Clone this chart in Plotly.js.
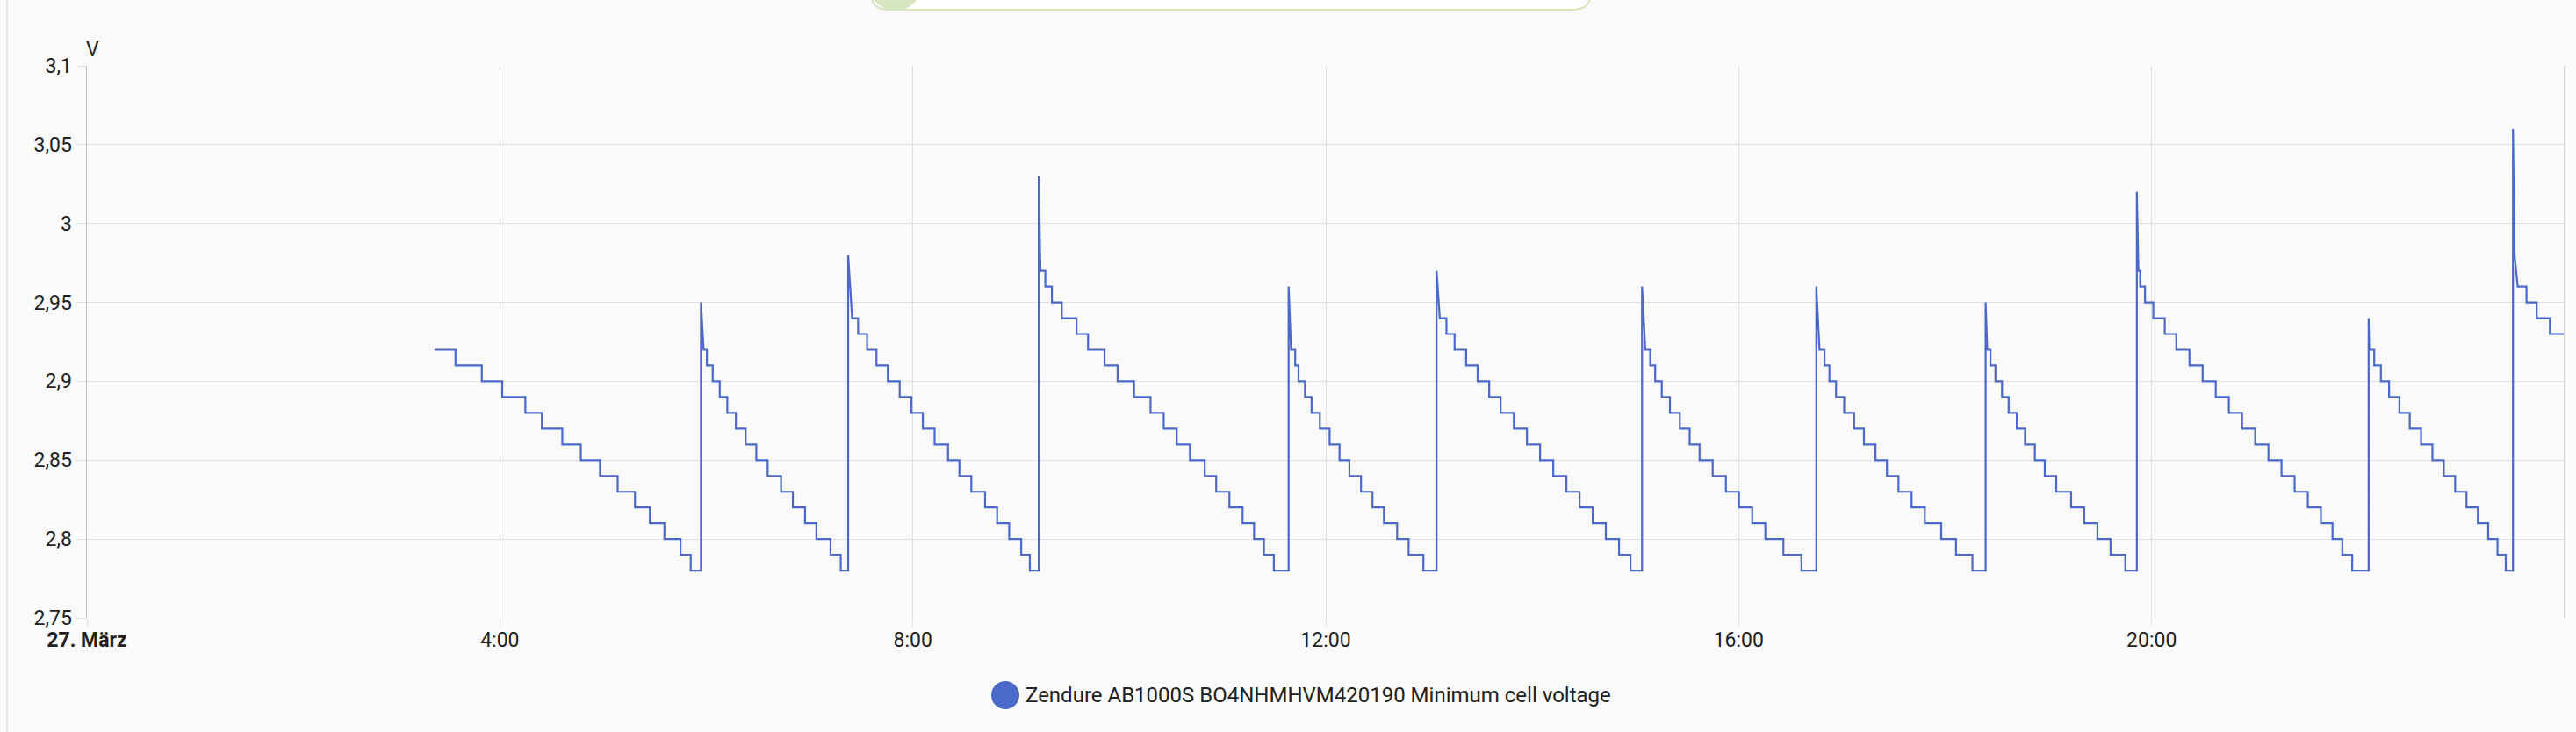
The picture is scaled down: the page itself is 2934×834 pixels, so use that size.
<!DOCTYPE html>
<html>
<head>
<meta charset="utf-8">
<script src="https://cdn.plot.ly/plotly-3.0.1.min.js"></script>
<style>
  html, body { margin: 0; padding: 0; background: #fafafa; }
  #chart { width: 2934px; height: 834px; }
</style>
</head>
<body>
<div id="chart"></div>
<script>
// ---- data ----
const chartDate = '2024-03-27';
const nextDate = '2024-03-28';
const seriesName = 'Zendure AB1000S BO4NHMHVM420190 Minimum cell voltage';
const unitLabel = 'V';

const times = [
  '03:22:05','03:34:12','03:49:30','04:01:23','04:14:49','04:24:25','04:36:18','04:47:02',
  '04:58:12','05:08:28','05:18:32','05:27:11','05:35:38','05:45:00','05:50:56',
  '05:56:53','05:58:25','06:00:18','06:03:43','06:07:48','06:12:11','06:17:10',
  '06:22:52','06:29:02','06:35:38','06:43:26','06:50:17','06:57:22','07:03:58','07:12:11','07:18:07',
  '07:22:26','07:24:43','07:28:12','07:33:25','07:38:53','07:45:29','07:52:23',
  '07:59:13','08:05:49','08:12:40','08:20:28','08:27:04','08:34:00','08:42:00','08:49:00',
  '08:56:00','09:03:00','09:08:00',
  '09:13:12','09:14:10','09:17:00','09:20:50','09:26:35','09:35:10','09:41:50','09:51:25',
  '09:59:00','10:08:35','10:18:10','10:25:50','10:33:25','10:41:05','10:49:40','10:56:20',
  '11:04:00','11:11:40','11:18:20','11:24:05','11:29:50',
  '11:38:25','11:39:50','11:42:15','11:44:10','11:47:55','11:51:45','11:56:35',
  '12:02:15','12:08:00','12:13:45','12:20:30','12:27:10','12:33:50','12:41:30','12:48:10','12:56:45',
  '13:04:25','13:06:18','13:10:08','13:14:53','13:21:36','13:28:16','13:34:59',
  '13:41:38','13:49:19','13:56:56','14:04:34','14:12:14','14:19:52','14:27:32','14:35:10',
  '14:42:47','14:50:28','14:57:07',
  '15:03:50','15:05:45','15:08:35','15:11:28','15:15:18','15:20:02','15:25:48',
  '15:31:30','15:37:16','15:44:53','15:52:34','16:00:11','16:07:52','16:15:29','16:25:59','16:36:29',
  '16:45:07','16:46:59','16:49:52','16:52:44','16:56:35','17:01:19','17:07:05',
  '17:12:47','17:19:30','17:26:10','17:32:53','17:40:30','17:48:11','17:57:43','18:06:18','18:15:50',
  '18:23:31','18:24:29','18:26:20','18:29:13','18:33:04','18:36:54','18:41:38','18:46:26',
  '18:52:08','18:57:54','19:04:34','19:13:12','19:20:49','19:28:30','19:36:07','19:44:42',
  '19:51:25','19:52:20','19:53:20','19:56:10','20:00:58','20:07:37','20:14:20','20:21:58',
  '20:29:38','20:37:16','20:44:53','20:52:34','21:00:11','21:07:52','21:15:29','21:23:06',
  '21:30:47','21:38:24','21:45:07','21:50:49','21:56:35',
  '22:06:07','22:06:29','22:09:22','22:13:16','22:18:00','22:24:00','22:30:00','22:36:36',
  '22:43:12','22:49:48','22:56:24','23:03:00','23:09:36','23:15:36','23:21:00','23:25:48',
  '23:30:00','23:30:55','23:32:46','23:37:52','23:43:48','23:51:29','23:59:59'
];

const voltage = [
  2.92,2.91,2.90,2.89,2.88,2.87,2.86,2.85,
  2.84,2.83,2.82,2.81,2.80,2.79,2.78,
  2.95,2.92,2.91,2.90,2.89,2.88,2.87,
  2.86,2.85,2.84,2.83,2.82,2.81,2.80,2.79,2.78,
  2.98,2.94,2.93,2.92,2.91,2.90,2.89,
  2.88,2.87,2.86,2.85,2.84,2.83,2.82,2.81,
  2.80,2.79,2.78,
  3.03,2.97,2.96,2.95,2.94,2.93,2.92,2.91,
  2.90,2.89,2.88,2.87,2.86,2.85,2.84,2.83,
  2.82,2.81,2.80,2.79,2.78,
  2.96,2.92,2.91,2.90,2.89,2.88,2.87,
  2.86,2.85,2.84,2.83,2.82,2.81,2.80,2.79,2.78,
  2.97,2.94,2.93,2.92,2.91,2.90,2.89,
  2.88,2.87,2.86,2.85,2.84,2.83,2.82,2.81,
  2.80,2.79,2.78,
  2.96,2.92,2.91,2.90,2.89,2.88,2.87,
  2.86,2.85,2.84,2.83,2.82,2.81,2.80,2.79,2.78,
  2.96,2.92,2.91,2.90,2.89,2.88,2.87,
  2.86,2.85,2.84,2.83,2.82,2.81,2.80,2.79,2.78,
  2.95,2.92,2.91,2.90,2.89,2.88,2.87,2.86,
  2.85,2.84,2.83,2.82,2.81,2.80,2.79,2.78,
  3.02,2.97,2.96,2.95,2.94,2.93,2.92,2.91,
  2.90,2.89,2.88,2.87,2.86,2.85,2.84,2.83,
  2.82,2.81,2.80,2.79,2.78,
  2.94,2.92,2.91,2.90,2.89,2.88,2.87,2.86,
  2.85,2.84,2.83,2.82,2.81,2.80,2.79,2.78,
  3.06,2.98,2.96,2.95,2.94,2.93,2.93
];

const xTickTimes = ['00:00','04:00','08:00','12:00','16:00','20:00'];
const xTickText  = ['<b>27. März</b>','4:00','8:00','12:00','16:00','20:00'];
const yTickVals  = [2.75, 2.8, 2.85, 2.9, 2.95, 3, 3.05, 3.1];
const yTickText  = ['2,75','2,8','2,85','2,9','2,95','3','3,05','3,1'];
const yRange     = [2.75, 3.1];

// ---- layout geometry (pixels) ----
const W = 2934, H = 834;
const L = 99, R = 2921, T = 75, B = 704;
const px2x = p => (p - L) / (R - L);
const px2y = p => (B - p) / (B - T);

const lineColor = '#4a69c9';
const gridColor = '#e0e0e0';
const textColor = '#212121';
const fontFam = 'Roboto, "Noto Sans", sans-serif';

// Step rendering: hold the previous value until the next sample (vertical jump),
// except quick decays right after a spike (drop > 0.015 V), which are drawn as a straight line.
const xs = [], ys = [];
for (let i = 0; i < times.length; i++) {
  const t = chartDate + ' ' + times[i];
  if (i > 0 && !(voltage[i - 1] - voltage[i] > 0.015)) {
    xs.push(t); ys.push(voltage[i - 1]);
  }
  xs.push(t); ys.push(voltage[i]);
}

const trace = {
  type: 'scatter',
  mode: 'lines',
  x: xs,
  y: ys,
  line: { color: lineColor, width: 2.2, shape: 'linear' },
  name: seriesName,
  showlegend: false,
  hoverinfo: 'skip'
};

// rounded-rect path helper in paper coords (pixel inputs)
function pillPath(x0, y0, x1, y1, r) {
  const P = (x, y) => px2x(x).toFixed(6) + ',' + px2y(y).toFixed(6);
  return 'M' + P(x0 + r, y0) + ' L' + P(x1 - r, y0) +
         ' Q' + P(x1, y0) + ' ' + P(x1, y0 + r) +
         ' L' + P(x1, y1 - r) + ' Q' + P(x1, y1) + ' ' + P(x1 - r, y1) +
         ' L' + P(x0 + r, y1) + ' Q' + P(x0, y1) + ' ' + P(x0, y1 - r) +
         ' L' + P(x0, y0 + r) + ' Q' + P(x0, y0) + ' ' + P(x0 + r, y0) + ' Z';
}

const tickFont = { family: fontFam, size: 23, color: textColor };

const layout = {
  width: W, height: H,
  paper_bgcolor: '#fafafa',
  plot_bgcolor: '#fafafa',
  margin: { l: L, r: W - R, t: T, b: H - B, pad: 0 },
  showlegend: false,
  font: { family: fontFam, size: 23, color: textColor },
  xaxis: {
    type: 'date',
    range: [chartDate + ' 00:00:00', nextDate + ' 00:00:00'],
    tickmode: 'array',
    tickvals: xTickTimes.map(t => chartDate + ' ' + t),
    ticktext: xTickText,
    showgrid: true, gridcolor: gridColor, gridwidth: 1,
    zeroline: false, showline: false,
    ticks: 'outside', ticklen: 9, tickcolor: gridColor, tickwidth: 1,
    ticklabelstandoff: -5,
    tickfont: tickFont,
    automargin: false, fixedrange: true
  },
  yaxis: {
    range: yRange,
    tickmode: 'array',
    tickvals: yTickVals,
    ticktext: yTickText,
    showgrid: true, gridcolor: gridColor, gridwidth: 1,
    zeroline: false,
    showline: true, linecolor: '#bdbdbd', linewidth: 1.5,
    ticks: 'outside', ticklen: 11, tickcolor: gridColor, tickwidth: 1,
    tickfont: tickFont,
    automargin: false, fixedrange: true
  },
  shapes: [
    // right border of plot area
    { type: 'line', xref: 'paper', yref: 'paper', x0: 1, x1: 1, y0: 0, y1: 1,
      line: { color: '#dadada', width: 2 } },
    // left card edge
    { type: 'line', xref: 'paper', yref: 'paper', x0: px2x(8), x1: px2x(8), y0: px2y(0), y1: px2y(H),
      line: { color: '#e2e2e2', width: 2 } },
    // partial top widget (pill)
    { type: 'path', xref: 'paper', yref: 'paper', path: pillPath(992, -40, 1812, 11, 20),
      fillcolor: '#ffffff', line: { color: '#d7e6c0', width: 2 } },
    { type: 'circle', xref: 'paper', yref: 'paper',
      xsizemode: 'pixel', ysizemode: 'pixel', xanchor: px2x(1020), yanchor: px2y(-18),
      x0: -30, x1: 30, y0: -30, y1: 30,
      fillcolor: '#d7e6c0', line: { width: 0 } },
    // legend dot
    { type: 'circle', xref: 'paper', yref: 'paper',
      xsizemode: 'pixel', ysizemode: 'pixel', xanchor: px2x(1145), yanchor: px2y(792),
      x0: -16, x1: 16, y0: -16, y1: 16,
      fillcolor: lineColor, line: { width: 0 } }
  ],
  annotations: [
    { text: unitLabel, xref: 'paper', yref: 'paper', x: px2x(96), y: px2y(56),
      xanchor: 'left', yanchor: 'middle', showarrow: false,
      font: { family: fontFam, size: 23, color: textColor } },
    { text: seriesName, xref: 'paper', yref: 'paper', x: px2x(1166), y: px2y(792),
      xanchor: 'left', yanchor: 'middle', showarrow: false,
      font: { family: fontFam, size: 24, color: textColor } }
  ]
};

Plotly.newPlot('chart', [trace], layout, { displayModeBar: false, staticPlot: true });
</script>
</body>
</html>
